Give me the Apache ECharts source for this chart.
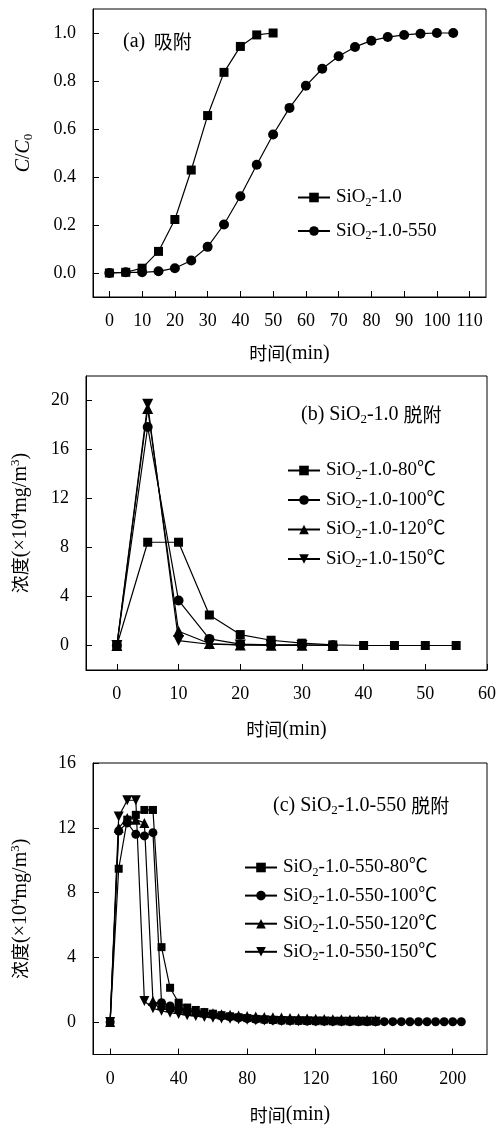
<!DOCTYPE html>
<html>
<head>
<meta charset="utf-8">
<script src="https://cdn.jsdelivr.net/npm/echarts@6/dist/echarts.min.js"></script>
<style>
  html, body { margin: 0; padding: 0; background: #fff; }
  #chart { width: 499px; height: 1126px; }
</style>
</head>
<body>
<div id="chart"></div>
<script>
// (a) adsorption breakthrough
const timeA1 = [0, 5, 10, 15, 20, 25, 30, 35, 40, 45, 50]
const ratioA1 = [0, 0.003, 0.02, 0.09, 0.223, 0.429, 0.656, 0.836, 0.944, 0.992, 1.0]
const timeA2 = [0, 5, 10, 15, 20, 25, 30, 35, 40, 45, 50, 55, 60, 65, 70, 75, 80, 85, 90, 95, 100, 105]
const ratioA2 = [0, 0.003, 0.003, 0.007, 0.02, 0.052, 0.109, 0.202, 0.32, 0.451, 0.577, 0.688, 0.78, 0.851, 0.903, 0.942, 0.968, 0.983, 0.992, 0.997, 1.0, 1.0]
const ticksAx = [0, 10, 20, 30, 40, 50, 60, 70, 80, 90, 100, 110]
const ticksAy = [0, 0.2, 0.4, 0.6, 0.8, 1.0]

// (b) SiO2-1.0 desorption
const timeB80 = [0, 5, 10, 15, 20, 25, 30, 35, 40, 45, 50, 55]
const concB80 = [0, 8.43, 8.43, 2.49, 0.89, 0.43, 0.19, 0.05, 0, 0, 0, 0]
const timeB100 = [0, 5, 10, 15, 20, 25, 30, 35]
const concB100 = [0, 17.84, 3.68, 0.54, 0.11, 0.05, 0.05, 0.02]
const timeB120 = [0, 5, 10, 15, 20, 25, 30, 35]
const concB120 = [0, 19.35, 1.16, 0.16, 0.05, 0.02, 0.02, 0.01]
const timeB150 = [0, 5, 10, 15, 20, 25, 30]
const concB150 = [0, 19.7, 0.4, 0.1, 0.05, 0.02, 0.01]
const ticksBx = [0, 10, 20, 30, 40, 50, 60]
const ticksBy = [0, 4, 8, 12, 16, 20]

// (c) SiO2-1.0-550 desorption
const timeC = [0, 5, 10, 15, 20, 25, 30, 35, 40, 45, 50, 55, 60, 65, 70, 75, 80, 85, 90, 95, 100, 105, 110, 115, 120, 125, 130, 135, 140, 145, 150, 155]
const timeCLong = [0, 5, 10, 15, 20, 25, 30, 35, 40, 45, 50, 55, 60, 65, 70, 75, 80, 85, 90, 95, 100, 105, 110, 115, 120, 125, 130, 135, 140, 145, 150, 155, 160, 165, 170, 175, 180, 185, 190, 195, 200, 205]
const concC80 = [0, 9.47, 12.5, 12.8, 13.1, 13.1, 4.63, 2.12, 1.2, 0.9, 0.75, 0.62, 0.52, 0.43, 0.36, 0.3, 0.25, 0.2, 0.16, 0.13, 0.11, 0.09, 0.08, 0.07, 0.06, 0.05, 0.05, 0.04, 0.04, 0.03, 0.03, 0.03]
const concC100 = [0, 11.8, 12.3, 11.6, 11.5, 11.7, 1.2, 1.0, 0.85, 0.72, 0.62, 0.53, 0.45, 0.38, 0.32, 0.27, 0.22, 0.18, 0.15, 0.12, 0.1, 0.09, 0.08, 0.07, 0.06, 0.06, 0.05, 0.05, 0.04, 0.04, 0.04, 0.03, 0.03, 0.03, 0.03, 0.02, 0.02, 0.02, 0.02, 0.02, 0.02, 0.02]
const concC120 = [0, 12.0, 12.6, 12.5, 12.3, 1.3, 1.05, 0.92, 0.82, 0.74, 0.67, 0.6, 0.54, 0.49, 0.45, 0.41, 0.38, 0.35, 0.32, 0.3, 0.28, 0.26, 0.24, 0.22, 0.21, 0.19, 0.18, 0.17, 0.16, 0.15, 0.14, 0.13]
const concC150 = [0, 12.7, 13.7, 13.7, 1.3, 0.85, 0.7, 0.58, 0.5, 0.42, 0.37, 0.32, 0.27, 0.23, 0.2, 0.17, 0.14, 0.12, 0.1, 0.08, 0.07, 0.06, 0.05, 0.05, 0.04, 0.04, 0.03, 0.03, 0.02, 0.02, 0.02, 0.02]
const ticksCx = [0, 40, 80, 120, 160, 200]
const ticksCy = [0, 4, 8, 12, 16]

const serif = "'Liberation Serif', 'Noto Sans CJK SC', serif"
const cjk = "'Noto Sans CJK SC', sans-serif"

function makeRich(size, cnSize) {
  const base = { fontFamily: serif, fontSize: size, lineHeight: size + 3, color: '#000' }
  const small = Math.round(size * 0.65)
  return {
    t: base,
    i: { ...base, fontStyle: 'italic' },
    cn: { ...base, fontFamily: cjk, fontSize: cnSize },
    sub: { fontFamily: serif, fontSize: small, lineHeight: small + 1, color: '#000', verticalAlign: 'bottom' },
    sup: { fontFamily: serif, fontSize: small, lineHeight: small + 1, color: '#000', verticalAlign: 'top' }
  }
}
const richName = makeRich(20, 18)
const richLegend = makeRich(19, 19)
const richNote = makeRich(20, 19)

const zip = (xs, ys) => xs.map((x, k) => [x, ys[k]])
const siName = n => '{t|SiO}{sub|2}{t|' + n.slice(4) + '}'

function xAxis(gridIndex, min, max, ticks, margin, gap) {
  return {
    type: 'value', gridIndex, min, max,
    axisLine: { onZero: false, lineStyle: { color: '#000', width: 1 } },
    axisTick: { inside: true, length: 6, customValues: ticks, lineStyle: { color: '#000' } },
    axisLabel: { customValues: ticks, margin, color: '#000', fontFamily: serif, fontSize: 18 },
    splitLine: { show: false },
    name: '{cn|时间}{t|(min)}', nameLocation: 'middle', nameGap: gap,
    nameTextStyle: { rich: richName }
  }
}

function yAxis(gridIndex, min, max, ticks, name, gap, fmt) {
  return {
    type: 'value', gridIndex, min, max,
    axisLine: { onZero: false, lineStyle: { color: '#000', width: 1 } },
    axisTick: { inside: true, length: 6, customValues: ticks, lineStyle: { color: '#000' } },
    axisLabel: { customValues: ticks, margin: 17, color: '#000', fontFamily: serif, fontSize: 18, formatter: fmt },
    splitLine: { show: false },
    name, nameLocation: 'middle', nameGap: gap, nameRotate: 90,
    nameTextStyle: { rich: richName }
  }
}

function line(name, idx, data, symbol, size, rotate) {
  return {
    name, type: 'line', xAxisIndex: idx, yAxisIndex: idx, data,
    symbol, symbolSize: size, symbolRotate: rotate || 0,
    color: '#000',
    lineStyle: { color: '#000', width: 1.2 },
    itemStyle: { color: '#000' }
  }
}

function legend(names, left, top, gap) {
  return {
    data: names, orient: 'vertical', left, top, itemGap: gap, padding: 0,
    itemWidth: 32, itemHeight: 12,
    formatter: siName,
    textStyle: { rich: richLegend, padding: [0, 0, 0, 1] }
  }
}

const chart = echarts.init(document.getElementById('chart'))
chart.setOption({
  animation: false,
  backgroundColor: '#fff',
  grid: [
    { left: 93, right: 13, top: 9, height: 288, show: true, borderColor: '#000', borderWidth: 1 },
    { left: 86, right: 12, top: 376, height: 294, show: true, borderColor: '#000', borderWidth: 1 },
    { left: 93, right: 12, top: 763, height: 294, show: true, borderColor: '#000', borderWidth: 1 }
  ],
  xAxis: [
    xAxis(0, -5, 115, ticksAx, 15, 45),
    xAxis(1, -5, 60, ticksBx, 15, 48),
    xAxis(2, -10, 220, ticksCx, 16, 49)
  ],
  yAxis: [
    yAxis(0, -0.1, 1.1, ticksAy, '{i|C}{t|/}{i|C}{sub|0}', 58, v => v.toFixed(1)),
    yAxis(1, -2, 22, ticksBy, '{cn|浓度}{t|(×10}{sup|4}{t|mg/m}{sup|3}{t|)}', 54),
    yAxis(2, -2, 16, ticksCy, '{cn|浓度}{t|(×10}{sup|4}{t|mg/m}{sup|3}{t|)}', 61)
  ],
  legend: [
    legend(['SiO2-1.0', 'SiO2-1.0-550'], 297, 188, 13),
    legend(['SiO2-1.0-80℃', 'SiO2-1.0-100℃', 'SiO2-1.0-120℃', 'SiO2-1.0-150℃'], 287, 461, 9),
    legend(['SiO2-1.0-550-80℃', 'SiO2-1.0-550-100℃', 'SiO2-1.0-550-120℃', 'SiO2-1.0-550-150℃'], 244, 858, 7.6)
  ],
  graphic: [
    { type: 'text', left: 123, top: 32, style: { text: '{t|(a)}{cn|  吸附}', rich: richNote } },
    { type: 'text', left: 301, top: 405, style: { text: '{t|(b) SiO}{sub|2}{t|-1.0 }{cn|脱附}', rich: richNote } },
    { type: 'text', left: 273, top: 796, style: { text: '{t|(c) SiO}{sub|2}{t|-1.0-550 }{cn|脱附}', rich: richNote } }
  ],
  series: [
    line('SiO2-1.0', 0, zip(timeA1, ratioA1), 'rect', 9),
    line('SiO2-1.0-550', 0, zip(timeA2, ratioA2), 'circle', 10),
    line('SiO2-1.0-80℃', 1, zip(timeB80, concB80), 'rect', 9),
    line('SiO2-1.0-100℃', 1, zip(timeB100, concB100), 'circle', 10),
    line('SiO2-1.0-120℃', 1, zip(timeB120, concB120), 'triangle', 11),
    line('SiO2-1.0-150℃', 1, zip(timeB150, concB150), 'triangle', 11, 180),
    line('SiO2-1.0-550-80℃', 2, zip(timeC, concC80), 'rect', 8),
    line('SiO2-1.0-550-100℃', 2, zip(timeCLong, concC100), 'circle', 9),
    line('SiO2-1.0-550-120℃', 2, zip(timeC, concC120), 'triangle', 10),
    line('SiO2-1.0-550-150℃', 2, zip(timeC, concC150), 'triangle', 10, 180)
  ]
})
</script>
</body>
</html>
